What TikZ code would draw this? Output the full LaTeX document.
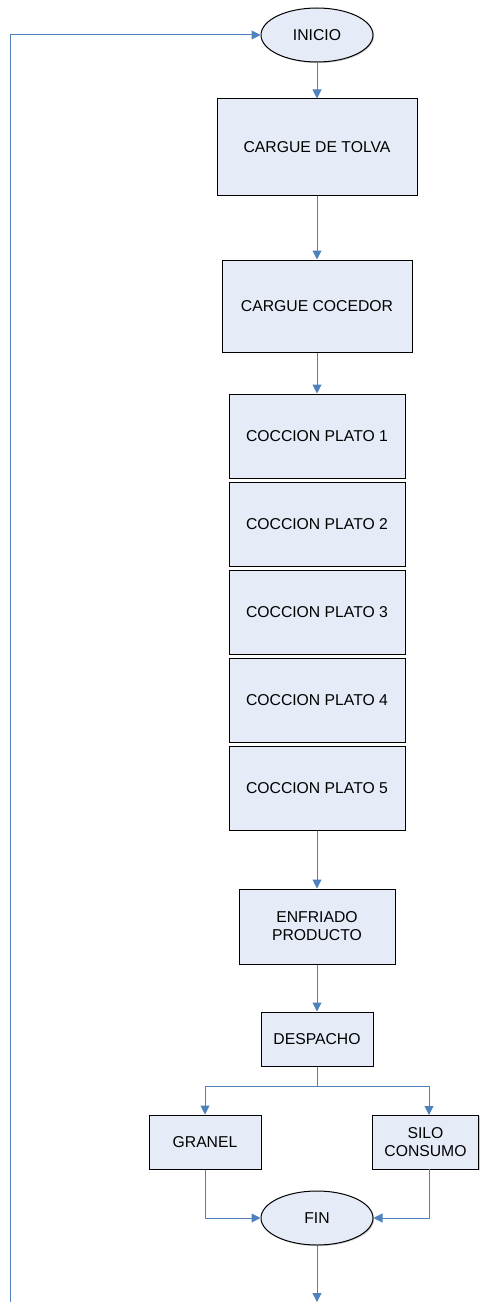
\documentclass[tikz,border=0pt]{standalone}
\usepackage{fontspec}
\setmainfont{Liberation Sans}
\usetikzlibrary{shapes.geometric,arrows.meta,shadows}

\definecolor{relleno}{RGB}{230,236,247}
\definecolor{conector}{RGB}{79,129,189}

\begin{document}
\begin{tikzpicture}[x=0.75pt,y=0.75pt,yscale=-1,
  caja/.style={draw=black,line width=0.75pt,fill=relleno,align=center,inner sep=0pt,
    drop shadow={shadow xshift=0.8pt,shadow yshift=-0.8pt,fill=black!35,opacity=0.6},
    font=\fontsize{11.8}{13.5}\selectfont},
  terminal/.style={caja,ellipse,minimum width=84pt,minimum height=40.5pt,drop shadow={opacity=0}},
  flecha/.style={draw=conector,line width=0.75pt,-{Triangle[length=6.75pt,width=6.75pt]}},
  linea/.style={draw=conector,line width=0.75pt}]
\useasboundingbox (0,0) rectangle (479,1302);

%Shape: Ellipse
\node[terminal] (inicio) at (317,35) {INICIO};

%Shape: Rectangle
\node[caja,minimum width=150pt,minimum height=72pt] (tolva) at (317,147) {CARGUE DE TOLVA};
\node[caja,minimum width=142.5pt,minimum height=69pt] (cocedor) at (317,306) {CARGUE COCEDOR};

%Shape: Rectangle (platos de coccion)
\foreach \i in {1,...,5}
  \node[caja,minimum width=132pt,minimum height=63pt] (plato\i) at (317,{436+88*(\i-1)}) {COCCION PLATO \i};

\node[caja,minimum width=117pt,minimum height=56.25pt] (enfriado) at (317,926.5) {ENFRIADO\\PRODUCTO};
\node[caja,minimum width=84pt,minimum height=40.5pt] (despacho) at (317,1039) {DESPACHO};
\node[caja,minimum width=84pt,minimum height=40.5pt] (granel) at (205,1142) {GRANEL};
\node[caja,minimum width=80pt,minimum height=40.5pt] (silo) at (425.5,1142) {SILO\\CONSUMO};

%Shape: Ellipse
\node[terminal] (fin) at (317,1218) {FIN};

\coordinate (bifurca) at (317,1086);
\coordinate (salida) at (317,1302);
\coordinate (retorno) at (10,1302);
\coordinate (silotope) at (429,1115);
\coordinate (silobase) at (429,1169);

%Straight Lines
\draw[flecha] (inicio) -- (tolva);
\draw[flecha] (tolva) -- (cocedor);
\draw[flecha] (cocedor) -- (plato1);
\draw[flecha] (plato5) -- (enfriado);
\draw[flecha] (enfriado) -- (despacho);
\draw[linea] (despacho) -- (bifurca);
\draw[flecha] (bifurca) -| (granel);
\draw[flecha] (bifurca) -| (silotope);
\draw[flecha] (granel) |- (fin);
\draw[flecha] (silobase) |- (fin);
\draw[flecha] (fin) -- (salida);
\draw[flecha] (retorno) |- (inicio);

\end{tikzpicture}
\end{document}
